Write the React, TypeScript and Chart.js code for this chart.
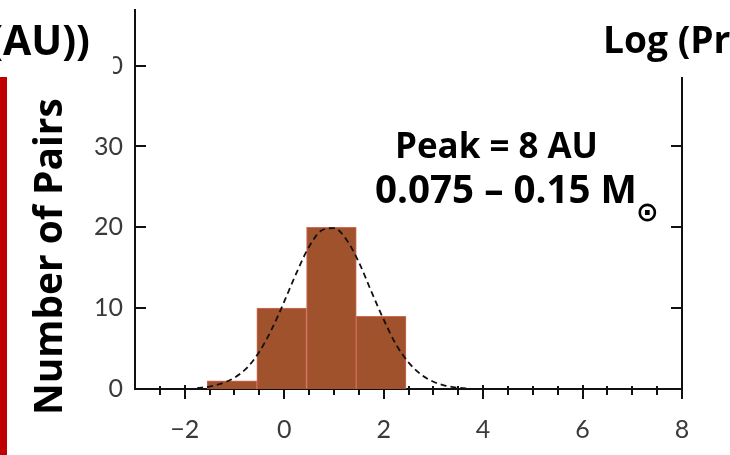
import React, { useEffect, useRef } from "react";
import { Chart, registerables } from "chart.js";

Chart.register(...registerables);

// ---- Data ----
const binCenters = [-1.05, -0.05, 0.95, 1.95];
const binCounts = [1, 10, 20, 9];

const curveX = [-1.75, -1.5, -1.25, -1.0, -0.75, -0.5, -0.25, 0.0, 0.25, 0.5, 0.75, 1.0, 1.25, 1.5, 1.75, 2.0, 2.25, 2.5, 2.75, 3.0, 3.25, 3.5, 3.75];
const curveY = [0.1, 0.3, 0.7, 1.4, 2.6, 4.6, 7.4, 10.8, 14.4, 17.6, 19.6, 19.9, 18.5, 15.7, 12.1, 8.6, 5.5, 3.3, 1.8, 0.9, 0.4, 0.15, 0.05];

const xTickValues = [-2, 0, 2, 4, 6, 8];
const yTickValues = [0, 10, 20, 30, 40];

const yAxisTitle = "Number of Pairs";
const topLeftText = "(AU))";
const topRightText = "Log (Pr";
const peakText = "Peak = 8 AU";
const massText = "0.075 \u2013 0.15 M";
const sunSymbol = "\u2299";

const X_MIN = -3;
const X_MAX = 8;
const Y_MIN = 0;
const Y_MAX = 47;

const BOLD_FAMILY = "'Open Sans', 'DejaVu Sans', sans-serif";
const TICK_FAMILY = "Lato, 'Liberation Sans', sans-serif";

function fitFont(ctx: CanvasRenderingContext2D, text: string, weight: string, family: string, targetW: number) {
  ctx.font = `${weight} 100px ${family}`;
  const w = ctx.measureText(text).width;
  const size = (100 * targetW) / w;
  ctx.font = `${weight} ${size}px ${family}`;
  return size;
}

const axesPlugin = {
  id: "customAxes",
  beforeDatasetsDraw(chart: any) {
    const { ctx, chartArea, scales } = chart;
    const { left, right, top, bottom } = chartArea;
    const xs = scales.x;
    const ys = scales.y;
    ctx.save();
    ctx.strokeStyle = "#111";
    ctx.lineWidth = 2;
    ctx.lineCap = "butt";
    const line = (x1: number, y1: number, x2: number, y2: number) => {
      ctx.beginPath();
      ctx.moveTo(x1, y1);
      ctx.lineTo(x2, y2);
      ctx.stroke();
    };
    line(left, top, left, bottom + 1);
    line(left - 1, bottom, right + 1, bottom);
    line(right, top, right, bottom + 10);
    // x ticks: minor every 0.5, major every 2
    for (let v = X_MIN + 0.5; v < X_MAX; v += 0.5) {
      const px = Math.round(xs.getPixelForValue(v));
      const major = Math.abs(v % 2) < 1e-9;
      if (major) line(px, bottom - 4, px, bottom + 10);
      else line(px, bottom - 3, px, bottom + 6);
    }
    // y ticks inward on both sides
    for (const v of yTickValues) {
      if (v === 0) continue;
      const py = Math.round(ys.getPixelForValue(v));
      line(left, py, left + 11, py);
      line(right - 11, py, right, py);
    }
    ctx.restore();
  },
};

const overlayPlugin = {
  id: "overlay",
  afterDraw(chart: any) {
    const { ctx } = chart;
    ctx.save();
    // white text boxes at top (cropped slide)
    ctx.fillStyle = "#ffffff";
    ctx.fillRect(0, 0, 113, 77);
    ctx.fillRect(585, 0, 145, 77);

    ctx.fillStyle = "#000";
    ctx.textBaseline = "alphabetic";

    // top-left "(AU))"
    fitFont(ctx, "AU))", "bold", BOLD_FAMILY, 87);
    ctx.textAlign = "right";
    ctx.fillText(topLeftText, 90, 55);

    // top-right "Log (Pr"
    fitFont(ctx, "Log", "bold", BOLD_FAMILY, 65);
    ctx.textAlign = "left";
    ctx.fillText(topRightText, 603, 53);

    // annotations
    fitFont(ctx, peakText, "bold", BOLD_FAMILY, 203);
    ctx.textAlign = "left";
    ctx.fillText(peakText, 395, 158);

    fitFont(ctx, massText, "bold", BOLD_FAMILY, 262);
    ctx.fillText(massText, 375, 203);
    ctx.font = `bold 27px 'DejaVu Sans', sans-serif`;
    ctx.fillText(sunSymbol, 636, 221);

    // red bar on the left
    ctx.fillStyle = "#c00000";
    ctx.fillRect(0, 77, 7, 455 - 77);

    // rotated y axis title
    ctx.fillStyle = "#000";
    fitFont(ctx, yAxisTitle, "bold", BOLD_FAMILY, 317);
    ctx.translate(62, 415);
    ctx.rotate(-Math.PI / 2);
    ctx.textAlign = "left";
    ctx.textBaseline = "alphabetic";
    ctx.fillText(yAxisTitle, 0, 0);
    ctx.restore();
  },
};

const fmt = (v: number) => (v < 0 ? "\u2212" + Math.abs(v) : String(v));

export default function App() {
  const canvasRef = useRef<HTMLCanvasElement | null>(null);

  useEffect(() => {
    const canvas = canvasRef.current;
    if (!canvas) return;
    const chart = new Chart(canvas, {
      type: "bar",
      data: {
        datasets: [
          {
            type: "line",
            label: "fit",
            data: curveX.map((x, i) => ({ x, y: curveY[i] })),
            borderColor: "#111",
            borderWidth: 1.8,
            borderDash: [6, 4],
            pointRadius: 0,
            cubicInterpolationMode: "monotone",
            fill: false,
            order: 0,
          } as any,
          {
            type: "bar",
            label: "pairs",
            data: binCenters.map((x, i) => ({ x, y: binCounts[i] })),
            backgroundColor: "#a0522d",
            borderColor: "#d4695a",
            borderWidth: 1,
            barPercentage: 1,
            categoryPercentage: 1,
            order: 1,
          } as any,
        ],
      },
      options: {
        responsive: false,
        animation: false,
        devicePixelRatio: 1,
        layout: { padding: { left: 0, right: 48, top: 9, bottom: 0 } },
        plugins: { legend: { display: false }, tooltip: { enabled: false }, title: { display: false } },
        scales: {
          x: {
            type: "linear",
            min: X_MIN,
            max: X_MAX,
            offset: false,
            grid: { display: false, drawTicks: false },
            border: { display: false },
            afterBuildTicks: (s: any) => {
              s.ticks = xTickValues.map((v) => ({ value: v }));
            },
            afterFit: (s: any) => {
              s.height = 66;
              s.paddingLeft = 0;
              s.paddingRight = 0;
            },
            ticks: {
              padding: 26,
              maxRotation: 0,
              autoSkip: false,
              color: "#3a3a3a",
              font: { family: TICK_FAMILY, size: 25, weight: "normal" },
              callback: (v: any) => fmt(Number(v)),
            },
          },
          y: {
            type: "linear",
            min: Y_MIN,
            max: Y_MAX,
            grid: { display: false, drawTicks: false },
            border: { display: false },
            afterBuildTicks: (s: any) => {
              s.ticks = yTickValues.map((v) => ({ value: v }));
            },
            afterFit: (s: any) => {
              s.width = 135;
              s.paddingTop = 0;
              s.paddingBottom = 0;
            },
            ticks: {
              padding: 12,
              autoSkip: false,
              color: "#3a3a3a",
              font: { family: TICK_FAMILY, size: 25, weight: "normal" },
              callback: (v: any) => fmt(Number(v)),
            },
          },
        },
      } as any,
      plugins: [axesPlugin, overlayPlugin],
    });
    return () => chart.destroy();
  }, []);

  return (
    <div style={{ position: "fixed", left: 0, top: 0, width: 730, height: 455, background: "#fff" }}>
      <canvas ref={canvasRef} width={730} height={455} style={{ display: "block", width: 730, height: 455 }} />
    </div>
  );
}
